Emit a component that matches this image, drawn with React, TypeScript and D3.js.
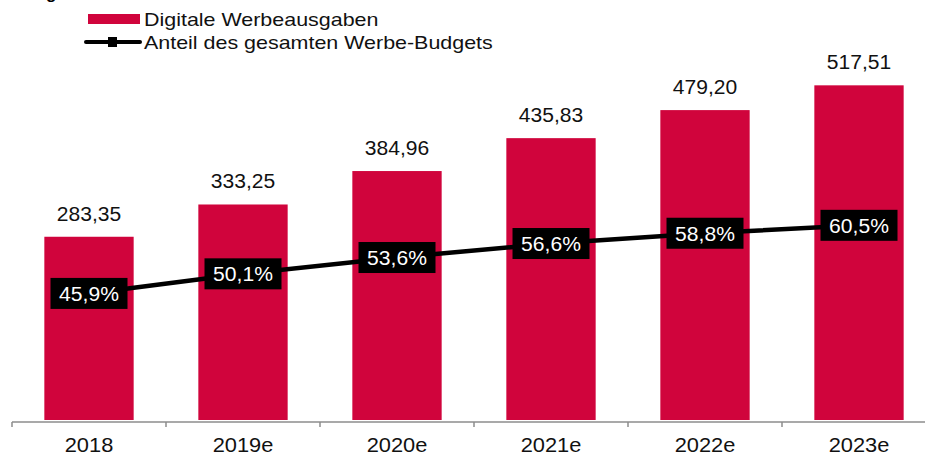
import { useRef, useEffect } from 'react'
import * as d3 from 'd3'

// chart data
const years = ['2018', '2019e', '2020e', '2021e', '2022e', '2023e']
const spending = [283.35, 333.25, 384.96, 435.83, 479.2, 517.51]
const share = [45.9, 50.1, 53.6, 56.6, 58.8, 60.5]
const legendLabels = ['Digitale Werbeausgaben', 'Anteil des gesamten Werbe-Budgets']

const RED = '#d0043c'
const fmt = (v: number, d: number) => v.toFixed(d).replace('.', ',')

function App() {
  const ref = useRef<SVGSVGElement>(null)

  useEffect(() => {
    const width = 925, height = 456
    const svg = d3.select(ref.current)
    svg.selectAll('*').remove()
    svg.attr('width', width).attr('height', height)

    const font = 'Liberation Sans, Arial, sans-serif'
    const baseY = 420

    const x = d3.scaleBand().domain(years).range([12, 12 + 154 * 6]).paddingInner(0.42).paddingOuter(0.21)
    const y = d3.scaleLinear().domain([0, 600]).range([baseY, baseY - 600 * 0.6467])
    const y2 = d3.scaleLinear().domain([30, 70]).range([367.6, 181])
    const cx = (i: number) => x(years[i])! + x.bandwidth() / 2

    // cut-off title descender
    svg.append('text').attr('x', 46).attr('y', -1).text('g')
      .style('font', `bold 17px ${font}`).attr('fill', '#000')

    // bars
    svg.selectAll('rect.bar').data(spending).enter().append('rect')
      .attr('class', 'bar')
      .attr('x', (d, i) => x(years[i])!)
      .attr('y', d => y(d))
      .attr('width', x.bandwidth())
      .attr('height', d => baseY - y(d))
      .attr('fill', RED)

    svg.selectAll('text.val').data(spending).enter().append('text')
      .attr('transform', (d, i) => `translate(${cx(i)},${y(d) - 16}) scale(1.08,1)`)
      .attr('text-anchor', 'middle')
      .style('font', `19.5px ${font}`)
      .attr('fill', '#111')
      .text(d => fmt(d, 2))

    // axis
    const axisG = svg.append('g').attr('transform', `translate(0,${baseY + 2})`)
    axisG.append('line').attr('x1', 12).attr('x2', width).attr('y1', 0).attr('y2', 0)
      .attr('stroke', '#8c8c8c').attr('stroke-width', 1.5)
    const tickPos = d3.range(0, years.length + 1).map(i => 12 + i * x.step())
    axisG.selectAll('line.tick').data(tickPos).enter().append('line')
      .attr('x1', d => d).attr('x2', d => d).attr('y1', 0).attr('y2', 5)
      .attr('stroke', '#8c8c8c').attr('stroke-width', 1.5)
    axisG.selectAll('text').data(years).enter().append('text')
      .attr('transform', (d, i) => `translate(${cx(i)},30) scale(1.12,1)`)
      .attr('text-anchor', 'middle')
      .style('font', `19.5px ${font}`)
      .attr('fill', '#111')
      .text(d => d)

    // share line
    const line = d3.line<number>()
      .x((d, i) => cx(i))
      .y(d => y2(d))
    svg.append('path').datum(share).attr('d', line)
      .attr('fill', 'none').attr('stroke', '#000').attr('stroke-width', 4.5)

    const lbl = svg.selectAll('g.lbl').data(share).enter().append('g')
      .attr('transform', (d, i) => `translate(${cx(i)},${y2(d)})`)
    lbl.append('rect').attr('x', -38.5).attr('y', -15.5).attr('width', 77).attr('height', 31).attr('fill', '#000')
    lbl.append('text').attr('text-anchor', 'middle').attr('y', 7.5)
      .attr('transform', 'scale(1.03,1)')
      .style('font', `20.5px ${font}`).attr('fill', '#fff')
      .text(d => fmt(d, 1) + '%')

    // legend
    const leg = svg.append('g')
    leg.append('rect').attr('x', 88).attr('y', 14).attr('width', 52).attr('height', 10).attr('fill', RED)
    leg.append('text').attr('transform', 'translate(144,26) scale(1.16,1)')
      .style('font', `18.5px ${font}`).attr('fill', '#111').text(legendLabels[0])
    leg.append('line').attr('x1', 86).attr('x2', 140).attr('y1', 42).attr('y2', 42)
      .attr('stroke', '#000').attr('stroke-width', 4).attr('stroke-linecap', 'round')
    leg.append('rect').attr('x', 108).attr('y', 37).attr('width', 9).attr('height', 10).attr('fill', '#000')
    leg.append('text').attr('transform', 'translate(144,49) scale(1.16,1)')
      .style('font', `18.5px ${font}`).attr('fill', '#111').text(legendLabels[1])
  }, [])

  return (
    <div style={{ position: 'absolute', left: 0, top: 0 }}>
      <svg ref={ref} style={{ display: 'block' }} />
    </div>
  )
}

export default App
